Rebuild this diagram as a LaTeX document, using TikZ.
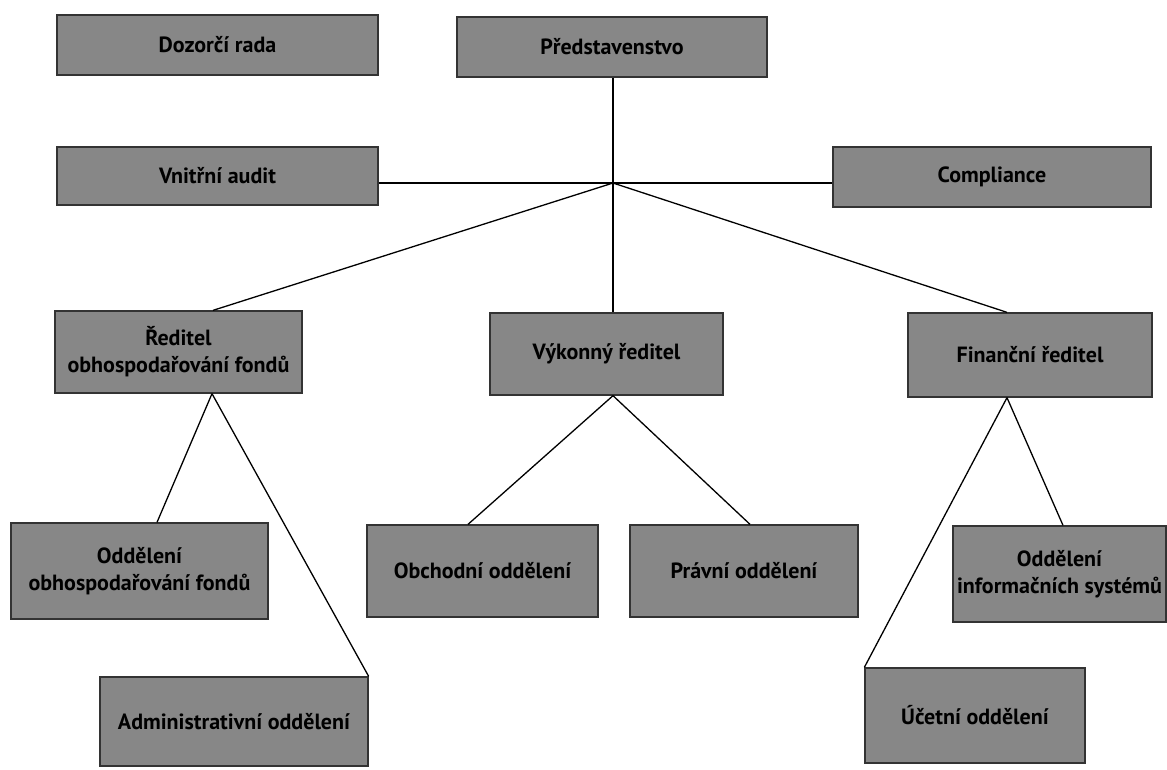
\documentclass[tikz,border=0pt]{standalone}
\usepackage{fontspec}
\setmainfont{PT Sans}
\begin{document}
\begin{tikzpicture}[x=1pt,y=-1pt,
  box/.style={draw=black!80, line width=1.3pt, fill=black!47, inner sep=1pt,
    align=center, text=black, font=\bfseries\fontsize{22}{27}\selectfont},
  conn/.style={line width=1.3pt, draw=black}]
\useasboundingbox (0,0) rectangle (1167,769);
% top level
\node[box, minimum width=321, minimum height=60] (dozor) at (217.5,45) {Dozorčí rada};
\node[box, minimum width=310, minimum height=60] (pred) at (612,47) {Představenstvo};
\node[box, minimum width=321, minimum height=58] (audit) at (217.5,176) {Vnitřní audit};
\node[box, minimum width=318, minimum height=60] (compl) at (992,177) {Compliance};
% directors
\node[box, minimum width=247, minimum height=82] (red) at (178.5,352) {Ředitel\\obhospodařování fondů};
\node[box, minimum width=233, minimum height=82] (vyk) at (606.5,354) {Výkonný ředitel};
\node[box, minimum width=244, minimum height=84] (fin) at (1030,355) {Finanční ředitel};
% departments
\node[box, minimum width=257, minimum height=96] (oddf) at (139.5,571) {Oddělení\\obhospodařování fondů};
\node[box, minimum width=231, minimum height=92] (obch) at (482.5,571) {Obchodní oddělení};
\node[box, minimum width=228, minimum height=92] (prav) at (744,571) {Právní oddělení};
\node[box, minimum width=213, minimum height=96] (oddis) at (1059.5,574) {Oddělení\\informačních systémů};
\node[box, minimum width=268, minimum height=89] (admin) at (234,721.5) {Administrativní oddělení};
\node[box, minimum width=220, minimum height=95] (ucet) at (975,715.5) {Účetní oddělení};
% hub
\coordinate (hub) at (613,183);
% connectors
\draw[conn] ([xshift=1pt]pred.south) -- (hub);
\draw[conn] (hub -| audit.east) -- (hub);
\draw[conn] (hub) -- (hub -| compl.west);
\draw[conn] (hub) -- ([xshift=34.5pt]red.north);
\draw[conn] (hub) -- ([xshift=6.5pt]vyk.north);
\draw[conn] (hub) -- ([xshift=-23pt]fin.north);
\draw[conn] ([xshift=33.5pt]red.south) -- ([xshift=17.5pt]oddf.north);
\draw[conn] ([xshift=33.5pt]red.south) -- (admin.north east);
\draw[conn] ([xshift=6.5pt]vyk.south) -- ([xshift=-14.5pt]obch.north);
\draw[conn] ([xshift=6.5pt]vyk.south) -- ([xshift=6pt]prav.north);
\draw[conn] ([xshift=-23pt]fin.south) -- ([xshift=3.5pt]oddis.north);
\draw[conn] ([xshift=-23pt]fin.south) -- (ucet.north west);
\end{tikzpicture}
\end{document}
